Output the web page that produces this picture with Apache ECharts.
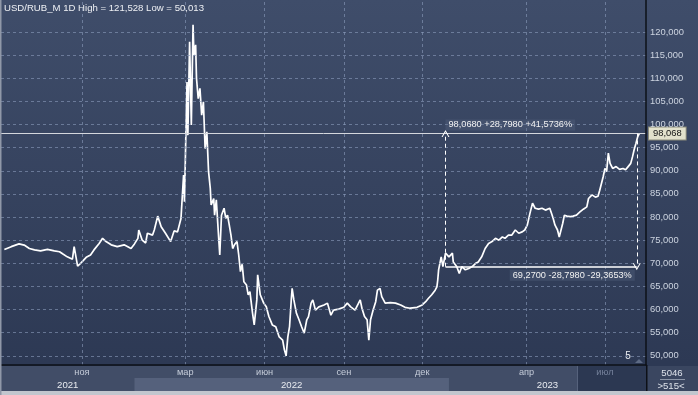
<!DOCTYPE html>
<html><head><meta charset="utf-8">
<script src="https://cdn.jsdelivr.net/npm/echarts@6/dist/echarts.min.js"></script>
<style>html,body{margin:0;padding:0;background:#2e3a55;}#c{width:698px;height:395px;}</style>
</head><body><div id="c"></div>
<script>
// ---- data ----
const titleText = 'USD/RUB_M 1D High = 121,528 Low = 50,013';
const baseDate = '2021-11-01';           // day offsets below are counted from this date
const dayOffsets = [
 -90,-82,-73,-67,-61,-55,-48,-40,-32,-26,-22,-17,-11,-9,-5,-1,5,10,14,20,24,28,34,41,49,57,61,65,66,70,74,76,82,84,88,92,97,103,107,111,115,
 118,119,122,123,125,127,129,130,132,133,135,137,139,141,143,145,147,149,150,153,154,156,159,160,162,165,167,169,171,173,175,177,180,182,184,
 186,188,190,191,193,194,195,198,200,201,202,203,204,207,211,214,217,221,225,229,233,235,237,239,241,243,244,246,249,252,255,258,261,263,266,268,
 271,275,281,285,289,292,298,304,308,312,317,323,325,328,331,333,335,338,341,343,346,348,352,358,364,370,375,381,389,395,399,402,406,410,412,413,414,415,
 417,419,422,426,430,431,435,438,441,445,449,453,457,460,464,468,472,476,480,484,488,491,495,499,503,507,511,514,517,520,523,526,530,534,538,543,
 545,547,549,552,554,556,558,560,563,567,570,574,578,582,586,588,592,596,599,601,605,607,609,611,613,616,620,624,628,631,634,637,639,641,643,645,647
];
const prices = [
 73.0,73.6,74.2,73.95,73.2,72.9,72.7,73.0,72.7,72.5,72.0,71.4,70.9,73.6,69.4,70.1,71.3,71.8,72.9,74.3,75.4,74.7,74.0,73.6,74.0,73.2,74.2,75.4,77.2,75.0,74.4,76.5,76.1,77.2,80.2,77.9,76.5,74.7,77.0,76.8,79.7,
 89.1,83.3,109.2,97.7,117.9,99.9,121.528,115.0,117.2,110.0,105.6,107.8,102.0,104.9,94.8,98.4,89.8,86.2,82.6,84.0,80.4,83.7,74.7,71.8,80.4,81.9,79.7,80.4,78.3,76.1,73.2,74.0,74.7,71.8,68.2,
 69.8,66.0,65.7,65.3,63.2,63.5,63.9,59.3,56.7,56.3,60.3,62.1,67.5,63.2,61.4,60.6,58.5,56.7,56.3,54.1,53.4,51.3,50.013,54.1,56.3,62.1,64.6,62.1,59.2,57.8,56.3,54.9,57.8,58.5,61.4,62.1,
 59.9,60.6,61.0,61.4,58.8,59.9,60.1,60.5,61.4,60.6,59.9,62.1,60.3,58.5,57.8,53.4,57.8,59.9,61.7,64.2,64.6,62.8,61.4,61.5,61.4,61.0,60.5,60.3,60.5,61.0,61.7,62.4,63.2,64.2,64.9,66.4,68.6,68.9,
 71.4,69.3,72.2,71.4,72.2,70.3,69.3,67.8,69.3,68.6,68.9,69.3,70.0,70.3,71.4,73.2,74.3,74.7,75.4,75.0,75.7,75.4,76.1,76.1,77.2,76.5,76.8,77.2,78.3,80.8,83.0,81.9,81.7,81.9,81.5,81.9,
 80.8,79.7,78.3,77.2,75.7,76.1,78.6,80.4,80.2,80.1,80.2,80.4,81.1,81.7,82.2,84.0,84.8,84.3,84.5,85.8,88.7,90.5,89.8,93.8,91.6,90.5,90.9,90.3,90.5,90.2,90.9,91.6,93.0,94.6,95.9,97.3,98.068
];
const lastPrice = 98.068;
const measureLow = 69.27;
const measureStartOffset = 422;
const measureEndOffset = 644;
const measureTopText = '98,0680 +28,7980 +41,5736%';
const measureBottomText = '69,2700 -28,7980 -29,3653%';
const yTicks = [50,55,60,65,70,75,80,85,90,95,100,105,110,115,120];
const monthTickDates = ['2021-11-01','2022-03-01','2022-06-01','2022-09-01','2022-12-01','2023-04-01','2023-07-01'];
const monthTickLabels = ['ноя','мар','июн','сен','дек','апр','июл'];
const yearStarts = ['2022-01-01','2023-01-01'];
const yearLabels = ['2021','2022','2023'];
const axisMinOffset = -93.9, axisMaxOffset = 654.7;
const yMin = 48.03, yMax = 126.9;
const counterTop = '5046', counterBottom = '>515<', scrollMark = '5';

// ---- build ----
const DAY = 86400000;
const base = Date.parse(baseDate + 'T00:00:00Z');
const toT = off => base + off * DAY;
const parseD = s => Date.parse(s + 'T00:00:00Z');
const xMin = toT(axisMinOffset), xMax = toT(axisMaxOffset);
const seriesData = dayOffsets.map((o, i) => [toT(o), prices[i]]);
const monthT = monthTickDates.map(parseD);
const yearT = yearStarts.map(parseD);
const yearBounds = [xMin, ...yearT, xMax];
const yearMid = yearLabels.map((_, i) => (yearBounds[i] + yearBounds[i + 1]) / 2);
const fmt = v => v.toFixed(3).replace('.', ',');
const lookup = (arr, labels, v) => { for (let i = 0; i < arr.length; i++) if (Math.abs(arr[i] - v) < DAY) return labels[i]; return ''; };

const chevron = 'path://M0,10L5,0L10,10L8.6,10L5,2.8L1.4,10Z';
const gridCol = 'rgba(140,156,188,0.6)';
const FONT = 'Liberation Sans';
const FS = 9.2;

const chart = echarts.init(document.getElementById('c'), null, {renderer: 'canvas'});
chart.setOption({
  animation: false,
  backgroundColor: {type: 'linear', x: 0, y: 0, x2: 0, y2: 1, colorStops: [{offset: 0, color: '#3f4d6a'}, {offset: 0.92, color: '#2d3954'}]},
  title: {text: titleText, left: 4, top: 3, padding: 0, textStyle: {color: '#eef0f4', fontSize: 9.6, fontWeight: 'normal', fontFamily: FONT}},
  grid: {left: 1, right: 52, top: 0, bottom: 30, containLabel: false},
  xAxis: [{
    type: 'value', min: xMin, max: xMax, position: 'bottom', z: 10,
    axisLine: {show: true, lineStyle: {color: '#0d1017', width: 1.5}},
    axisTick: {show: false}, splitLine: {show: false},
    axisLabel: {customValues: monthT, margin: 3, color: '#c6cdda', fontSize: FS, fontFamily: FONT,
      formatter: v => { const l = lookup(monthT, monthTickLabels, v); return l === 'июл' ? '{d|' + l + '}' : l; },
      rich: {d: {color: '#75819b', fontSize: FS, fontFamily: FONT}}}
  }, {
    type: 'value', min: xMin, max: xMax, position: 'bottom', offset: 13, z: 10,
    axisLine: {show: false}, axisTick: {show: false}, splitLine: {show: false},
    axisLabel: {customValues: yearMid, margin: 2, color: '#e8ebf0', fontSize: 9.6, fontFamily: FONT,
      formatter: v => lookup(yearMid, yearLabels, v)}
  }],
  yAxis: {
    type: 'value', position: 'right', min: yMin, max: yMax, z: 10,
    axisLine: {show: true, lineStyle: {color: '#0d1017', width: 1.5}},
    axisTick: {show: false}, splitLine: {show: false},
    axisLabel: {customValues: yTicks, margin: 4, color: '#cdd4e0', fontSize: 9.4, fontFamily: FONT, formatter: fmt}
  },
  series: [{
    type: 'line', data: [], z: 1, silent: true,
    markLine: {silent: true, symbol: ['none', 'none'], animation: false, label: {show: false},
      lineStyle: {type: [3, 3], color: gridCol, width: 1},
      data: [...yTicks.map(v => ({yAxis: v})), ...monthT.map(t => ({xAxis: t}))]}
  }, {
    type: 'line', data: seriesData, showSymbol: false, z: 3,
    lineStyle: {color: '#ffffff', width: 1.7}, itemStyle: {color: '#fff'}
  }, {
    type: 'line', data: [], z: 4, silent: true,
    markLine: {silent: true, animation: false, symbol: ['none', 'none'],
      data: [
        {yAxis: lastPrice, lineStyle: {type: 'solid', color: '#d4d7dd', width: 1},
         label: {show: true, position: 'end', distance: 3, formatter: fmt(lastPrice), color: '#111', fontSize: 9.4, fontFamily: FONT,
                 backgroundColor: '#e2e1cc', borderColor: '#8a8a7a', borderWidth: 1, padding: [2, 4, 1, 4]}},
        [{coord: [toT(measureStartOffset), measureLow], lineStyle: {type: 'solid', color: '#ffffff', width: 1.5}, label: {show: false}},
         {coord: [toT(measureEndOffset), measureLow]}],
        [{coord: [toT(measureStartOffset), measureLow], lineStyle: {type: [4, 3], color: '#ffffff', width: 1}, label: {show: false}},
         {coord: [toT(measureStartOffset), lastPrice], symbol: chevron, symbolSize: [8, 7]}],
        [{coord: [toT(measureEndOffset), lastPrice], lineStyle: {type: [4, 3], color: '#ffffff', width: 1}, label: {show: false}},
         {coord: [toT(measureEndOffset), measureLow], symbol: chevron, symbolSize: [8, 7]}]
      ]},
    markPoint: {silent: true, animation: false, symbol: 'circle', symbolSize: 0,
      data: [
        {coord: [toT(measureStartOffset), lastPrice],
         label: {show: true, position: [0, -14], formatter: measureTopText, color: '#f2f2f2', fontSize: FS, fontFamily: FONT,
                 backgroundColor: 'rgba(90,104,132,0.35)', padding: [1, 3]}},
        {coord: [toT(measureEndOffset), measureLow],
         label: {show: true, position: [-2, 3], align: 'right', formatter: measureBottomText, color: '#f2f2f2', fontSize: FS, fontFamily: FONT,
                 backgroundColor: 'rgba(90,104,132,0.35)', padding: [1, 3]}}
      ]}
  }]
});

// bottom strip and frame (positions of year bands come from the x axis)
const px = t => chart.convertToPixel({xAxisIndex: 0}, t);
const gridRight = 646, stripTop = 366, rowMid = 378, stripBottom = 391;
const band2022L = px(yearT[0]), band2022R = px(yearT[1]);
chart.setOption({graphic: [
  {type: 'rect', z: 1, shape: {x: 0, y: stripTop, width: gridRight, height: stripBottom - stripTop}, style: {fill: '#414d67'}},
  {type: 'rect', z: 1, shape: {x: band2022L, y: rowMid, width: band2022R - band2022L, height: stripBottom - rowMid}, style: {fill: '#55617c'}},
  {type: 'rect', z: 1, shape: {x: 578, y: stripTop, width: gridRight - 578, height: stripBottom - stripTop}, style: {fill: '#2c3852'}},
  {type: 'rect', z: 1, shape: {x: 577, y: stripTop, width: 1, height: stripBottom - stripTop}, style: {fill: '#56627c'}},
  {type: 'rect', z: 1, shape: {x: gridRight, y: stripTop, width: 698 - gridRight, height: stripBottom - stripTop}, style: {fill: '#3a4660'}},
  {type: 'rect', z: 12, shape: {x: gridRight, y: stripTop - 1, width: 1.5, height: stripBottom - stripTop + 1}, style: {fill: '#0d1017'}},
  {type: 'text', z: 12, x: 672, y: 373, style: {text: counterTop, fill: '#dde2ea', fontSize: 9.6, fontFamily: FONT, align: 'center', verticalAlign: 'middle'}},
  {type: 'rect', z: 12, shape: {x: 660, y: 379, width: 25, height: 1}, style: {fill: '#8c96a8'}},
  {type: 'text', z: 12, x: 671, y: 386, style: {text: counterBottom, fill: '#dde2ea', fontSize: 9.6, fontFamily: FONT, align: 'center', verticalAlign: 'middle'}},
  {type: 'text', z: 12, x: 628, y: 356, style: {text: scrollMark, fill: '#eef0f4', fontSize: 10, fontFamily: FONT, align: 'center', verticalAlign: 'middle'}},
  {type: 'polygon', z: 12, shape: {points: [[635, 363], [639, 359], [643, 363]]}, style: {fill: '#5d6a84'}},
  {type: 'rect', z: 12, shape: {x: 0, y: stripBottom, width: 698, height: 4}, style: {fill: '#c2c6ce'}},
  {type: 'rect', z: 12, shape: {x: 0, y: 0, width: 1.5, height: 395}, style: {fill: '#9098a8'}}
]});
</script></body></html>
